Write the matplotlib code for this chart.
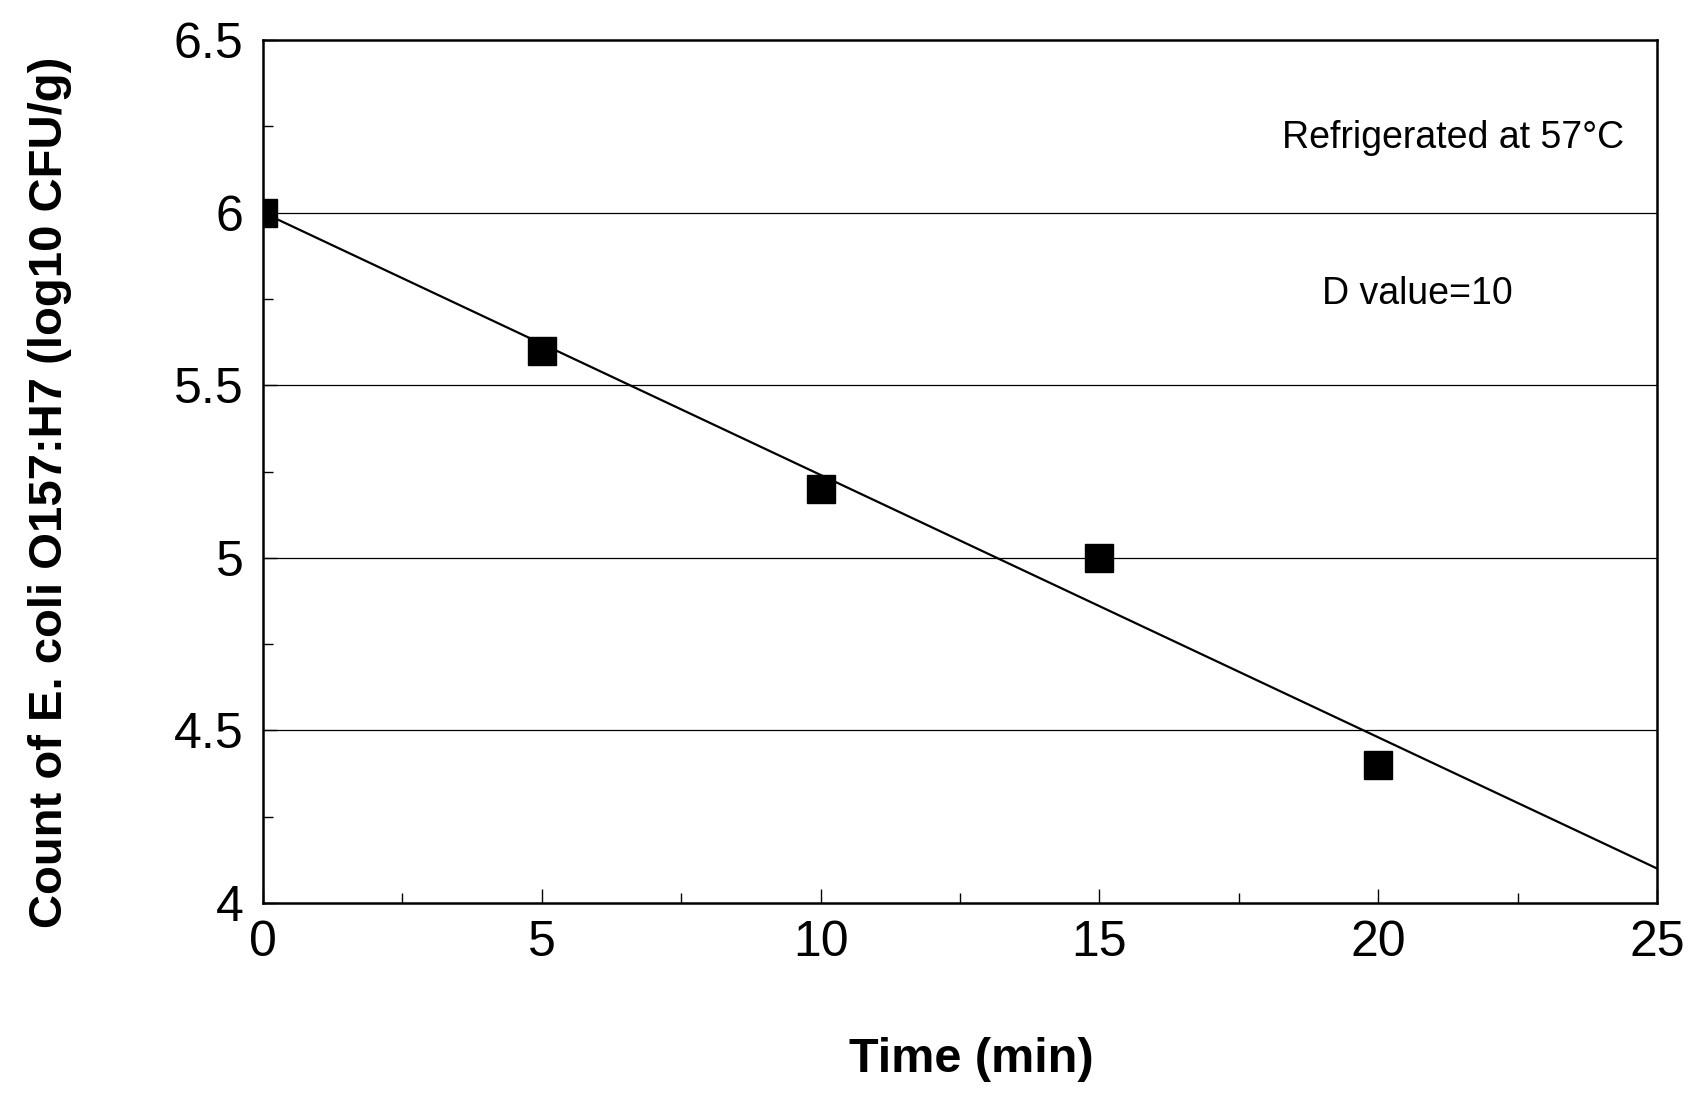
import numpy as np
import matplotlib
matplotlib.use("Agg")
import matplotlib.pyplot as plt
from matplotlib.ticker import MultipleLocator

time_min = [0, 5, 10, 15, 20]
log_count = [6.0, 5.6, 5.2, 5.0, 4.4]
x_ticks = [0, 5, 10, 15, 20, 25]
y_ticks = [4, 4.5, 5, 5.5, 6, 6.5]
y_tick_labels = ["4", "4.5", "5", "5.5", "6", "6.5"]

plt.rcParams['font.family'] = ['Liberation Sans', 'DejaVu Sans']

fig = plt.figure(figsize=(16.96, 10.94), dpi=100)
ax = fig.add_axes([263/1696, 1 - 903/1094, (1657-263)/1696, (903-40)/1094])

# regression trend line
slope, intercept = np.polyfit(time_min, log_count, 1)
fit_x = np.array([0, 25])
ax.plot(fit_x, intercept + slope * fit_x, color='black', lw=1.6, zorder=3)

ax.plot(time_min, log_count, linestyle='none', marker='s', markersize=20,
        color='black', zorder=4)

ax.set_xlim(0, 25)
ax.set_ylim(4, 6.5)
ax.set_xticks(x_ticks)
ax.set_yticks(y_ticks)
ax.set_yticklabels(y_tick_labels)
ax.xaxis.set_minor_locator(MultipleLocator(2.5))
ax.yaxis.set_minor_locator(MultipleLocator(0.25))
ax.tick_params(which='major', direction='in', length=10, width=1, labelsize=36)
ax.tick_params(axis='x', which='major', pad=12)
ax.tick_params(axis='y', which='major', pad=14)
ax.tick_params(which='minor', direction='in', length=7, width=1)

for y in y_ticks[1:-1]:
    ax.axhline(y, color='black', lw=0.9, zorder=1)

for s in ax.spines.values():
    s.set_linewidth(1.8)

ax.set_xlabel("Time (min)", fontsize=35, fontweight='bold')
ax.set_ylabel("Count of E. coli O157:H7 (log10 CFU/g)", fontsize=34, fontweight='bold')
ax.yaxis.set_label_coords(-0.137, 0.476)
ax.xaxis.set_label_coords(0.508, -0.155)

ax.text(0.854, 0.887, "Refrigerated at 57°C", transform=ax.transAxes,
        fontsize=27, ha='center', va='center')
ax.text(0.828, 0.706, "D value=10", transform=ax.transAxes,
        fontsize=27, ha='center', va='center')

fig.savefig("out.png", dpi=100, facecolor='white')
